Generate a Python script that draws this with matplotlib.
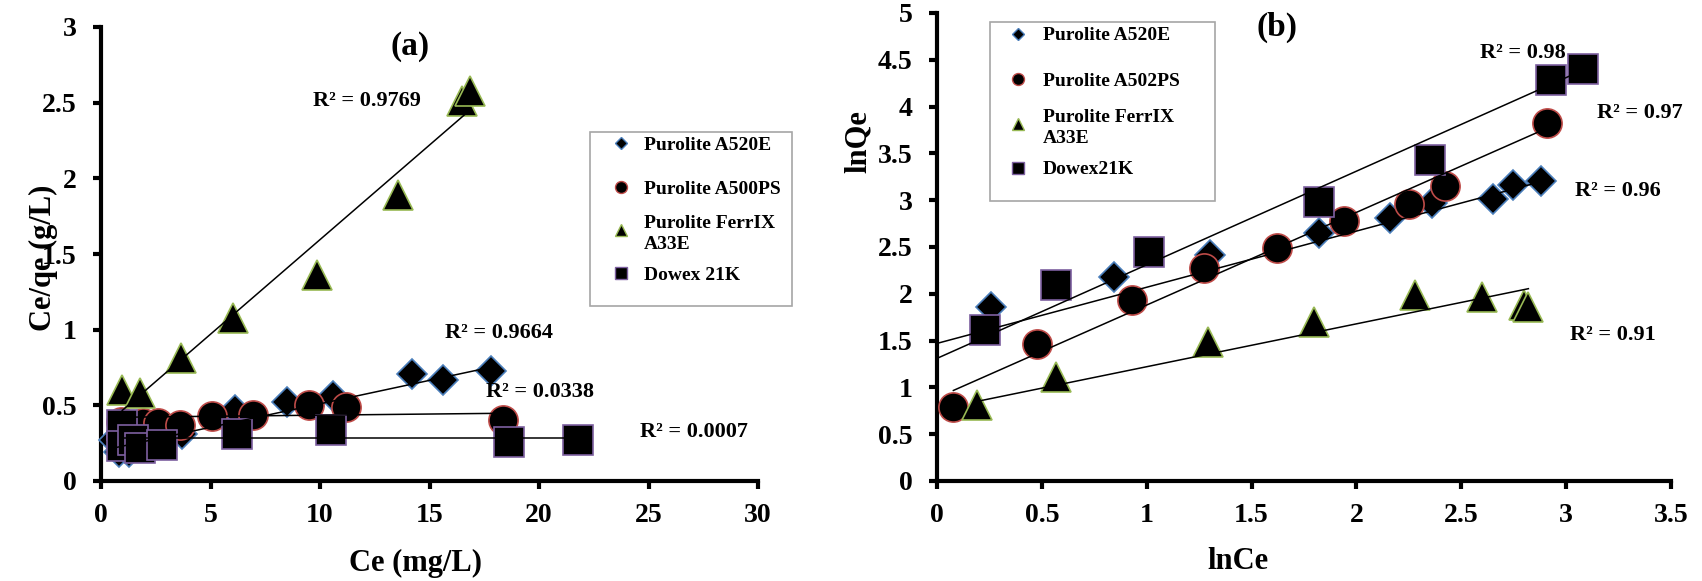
import numpy as np
import matplotlib.pyplot as plt
from matplotlib.lines import Line2D
from matplotlib.patches import Rectangle

plt.rcParams['font.family'] = ['Liberation Serif', 'DejaVu Serif']
plt.rcParams['font.weight'] = 'bold'
plt.rcParams['axes.labelweight'] = 'bold'

W, H = 1702, 581

# ---- (a) Ce/qe vs Ce ----
a_a520e_x = [0.6, 0.8, 1.3, 3.7, 6.1, 8.5, 10.6, 14.2, 15.6, 17.8]
a_a520e_y = [0.27, 0.19, 0.19, 0.31, 0.47, 0.52, 0.56, 0.71, 0.67, 0.73]
a_a500ps_x = [0.9, 1.9, 2.6, 3.6, 5.07, 6.96, 9.5, 11.2, 18.37]
a_a500ps_y = [0.39, 0.38, 0.38, 0.37, 0.43, 0.436, 0.50, 0.487, 0.40]
a_ferrix_x = [0.97, 1.77, 3.66, 6.05, 9.86, 13.55, 16.5, 16.85]
a_ferrix_y = [0.60, 0.58, 0.81, 1.08, 1.36, 1.89, 2.51, 2.58]
a_dowex_x = [0.95, 0.95, 1.45, 1.8, 2.8, 6.2, 10.5, 18.65, 21.8]
a_dowex_y = [0.37, 0.23, 0.27, 0.22, 0.24, 0.31, 0.34, 0.26, 0.27]
# trend lines (slope, intercept)
a_fit_slope = [0.031, 0.0015, 0.125, 0.0]
a_fit_icpt = [0.20, 0.42, 0.345, 0.282]
a_r2 = ['R² = 0.9664', 'R² = 0.0338', 'R² = 0.9769', 'R² = 0.0007']
a_r2_x = [18.17, 20.05, 12.15, 27.08]
a_r2_y = [0.976, 0.59, 2.51, 0.324]
a_labels = ['Purolite A520E', 'Purolite A500PS', 'Purolite FerrIX\nA33E', 'Dowex 21K']

# ---- (b) lnQe vs lnCe ----
b_a520e_x = [0.256, 0.845, 1.30, 1.82, 2.16, 2.36, 2.65, 2.745, 2.88]
b_a520e_y = [1.86, 2.18, 2.41, 2.65, 2.81, 2.97, 3.01, 3.16, 3.20]
b_a502ps_x = [0.078, 0.475, 0.93, 1.275, 1.62, 1.94, 2.25, 2.42, 2.91]
b_a502ps_y = [0.79, 1.46, 1.93, 2.28, 2.49, 2.78, 2.96, 3.15, 3.83]
b_ferrix_x = [0.19, 0.567, 1.29, 1.80, 2.28, 2.60, 2.80, 2.82]
b_ferrix_y = [0.81, 1.11, 1.49, 1.70, 1.99, 1.97, 1.88, 1.86]
b_dowex_x = [0.23, 0.567, 1.01, 1.82, 2.35, 2.93, 3.08]
b_dowex_y = [1.61, 2.09, 2.45, 2.98, 3.43, 4.28, 4.40]
b_fit_slope = [0.60, 0.99, 0.458, 1.0]
b_fit_icpt = [1.47, 0.89, 0.763, 1.31]
b_fit_start = [0.0, None, None, 0.0]
b_r2 = ['R² = 0.96', 'R² = 0.97', 'R² = 0.91', 'R² = 0.98']
b_r2_x = [3.245, 3.353, 3.224, 2.795]
b_r2_y = [3.10, 3.935, 1.56, 4.576]
b_labels = ['Purolite A520E', 'Purolite A502PS', 'Purolite FerrIX\nA33E', 'Dowex21K']

markers = ['D', 'o', '^', 's']
msizes = [15, 21, 21, 21]
edges = ['#4a7ebb', '#be4b48', '#98b954', '#7d60a0']


def style_axes(ax, xticks, yticks):
    for s in ['top', 'right']:
        ax.spines[s].set_visible(False)
    for s in ['left', 'bottom']:
        ax.spines[s].set_linewidth(3)
    ax.set_xticks(xticks, [f'{v:g}' for v in xticks])
    ax.set_yticks(yticks, [f'{v:g}' for v in yticks])
    ax.tick_params(direction='out', length=5.5, width=3, labelsize=20)
    ax.tick_params(axis='y', pad=12)
    ax.tick_params(axis='x', pad=10)


def draw_panel(ax, xs, ys, slopes, icpts, starts):
    for i in range(4):
        ax.plot(xs[i], ys[i], linestyle='none', marker=markers[i], ms=msizes[i],
                mfc='black', mec=edges[i], mew=1.2, zorder=3 + i, clip_on=False)
    for i in range(4):
        x0 = min(xs[i]) if starts[i] is None else starts[i]
        xx = np.array([x0, max(xs[i])])
        ax.plot(xx, slopes[i] * xx + icpts[i], color='black', lw=1.1, zorder=8)


def draw_legend(fig, box, mx, tx, rows, labels):
    x0, y0, x1, y1 = box
    fig.add_artist(Rectangle((x0 / W, 1 - y1 / H), (x1 - x0) / W, (y1 - y0) / H,
                             transform=fig.transFigure, facecolor='white',
                             edgecolor='#a6a6a6', lw=1.2, zorder=10))
    lsz = [6, 8.6, 8.6, 8.6]
    for i, lab in enumerate(labels):
        fig.add_artist(Line2D([mx / W], [1 - rows[i] / H], transform=fig.transFigure,
                              marker=markers[i], ms=lsz[i], mfc='black', mec=edges[i],
                              mew=1.0, linestyle='none', zorder=11))
        fig.text(tx / W, 1 - rows[i] / H, lab, fontsize=14, ha='left',
                 va='center_baseline', linespacing=1.33, zorder=11)


fig = plt.figure(figsize=(W / 100, H / 100), dpi=100)
ax1 = fig.add_axes([101 / W, 100 / H, 657 / W, 454 / H])
ax2 = fig.add_axes([937 / W, 100 / H, 734 / W, 468 / H])

# panel (a)
draw_panel(ax1, [a_a520e_x, a_a500ps_x, a_ferrix_x, a_dowex_x],
           [a_a520e_y, a_a500ps_y, a_ferrix_y, a_dowex_y],
           a_fit_slope, a_fit_icpt, [None] * 4)
ax1.set_xlim(0, 30)
ax1.set_ylim(0, 3)
style_axes(ax1, np.arange(0, 31, 5), np.arange(0, 3.01, 0.5))
for t, x, y in zip(a_r2, a_r2_x, a_r2_y):
    ax1.text(x, y, t, fontsize=16, ha='center', va='center', zorder=12)
ax1.text(0.47, 0.958, '(a)', transform=ax1.transAxes, fontsize=24,
         ha='center', va='center')
ax1.set_xlabel('Ce (mg/L)', fontsize=22, va='center')
ax1.xaxis.set_label_coords(0.478, -0.181)
ax1.set_ylabel('Ce/qe (g/L)', fontsize=22, va='center', ha='center')
ax1.yaxis.set_label_coords(-0.088, 0.491)

# panel (b)
draw_panel(ax2, [b_a520e_x, b_a502ps_x, b_ferrix_x, b_dowex_x],
           [b_a520e_y, b_a502ps_y, b_ferrix_y, b_dowex_y],
           b_fit_slope, b_fit_icpt, b_fit_start)
ax2.set_xlim(0, 3.5)
ax2.set_ylim(0, 5)
style_axes(ax2, np.arange(0, 3.51, 0.5), np.arange(0, 5.01, 0.5))
for t, x, y in zip(b_r2, b_r2_x, b_r2_y):
    ax2.text(x, y, t, fontsize=16, ha='center', va='center', zorder=12)
ax2.text(0.463, 0.970, '(b)', transform=ax2.transAxes, fontsize=24,
         ha='center', va='center')
ax2.set_xlabel('lnCe', fontsize=22, va='center')
ax2.xaxis.set_label_coords(0.41, -0.171)
ax2.set_ylabel('lnQe', fontsize=22, va='center', ha='center')
ax2.yaxis.set_label_coords(-0.1076, 0.726)

draw_legend(fig, (590, 132, 792, 306), 621, 644, [143, 187, 230, 273], a_labels)
draw_legend(fig, (990, 22, 1215, 201), 1018, 1043, [34, 79, 124, 168], b_labels)

fig.savefig('out.png', dpi=100)
